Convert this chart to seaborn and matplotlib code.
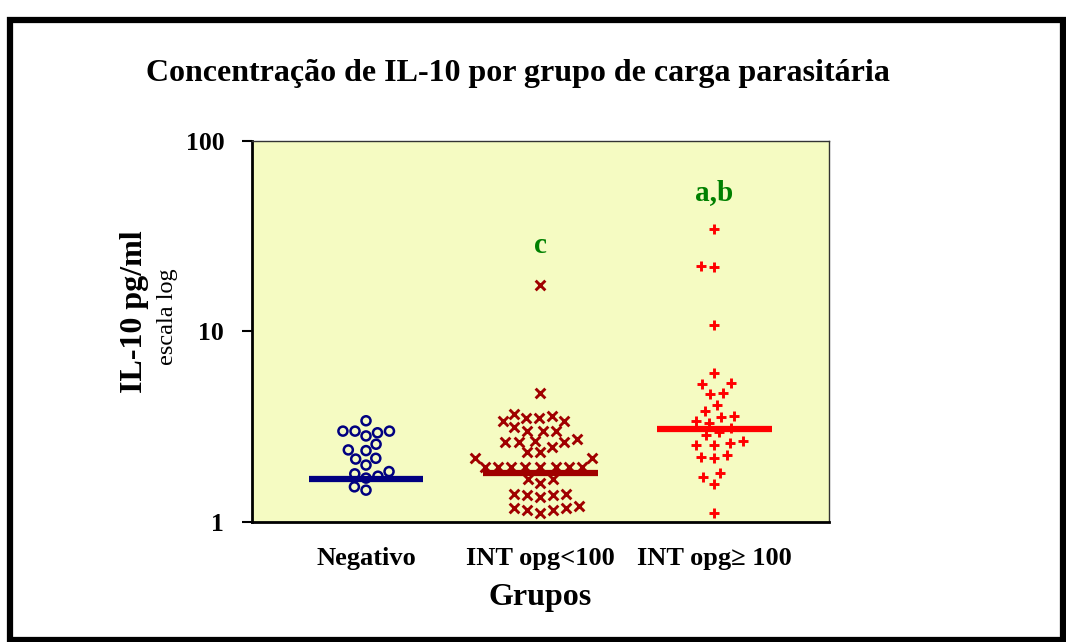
import numpy as np
import pandas as pd
import seaborn as sns
import matplotlib.pyplot as plt
from matplotlib.patches import Rectangle
from matplotlib.ticker import NullLocator

# IL-10 (pg/ml), por grupo
grupos = ['Negativo', 'INT opg<100', 'INT opg\u2265 100']
negativo = [3.40, 3.00, 3.00, 2.83, 2.94, 3.00, 2.56, 2.39, 2.37, 2.16, 2.14,
            1.99, 1.84, 1.74, 1.70, 1.79, 1.47, 1.53]
int_menor100 = [17.5, 4.77, 3.60, 3.50, 3.40, 3.40, 3.53, 3.69, 3.02, 3.02,
                3.02, 3.16, 2.67, 2.64, 2.73, 2.64, 2.64, 2.48, 2.32, 2.34,
                2.16, 2.16, 1.95, 1.95, 1.95, 1.95, 1.95, 1.95, 1.95, 1.95,
                1.68, 1.60, 1.68, 1.41, 1.39, 1.36, 1.39, 1.41,
                1.19, 1.16, 1.12, 1.15, 1.19, 1.21]
int_maior100 = [34.4, 22.1, 21.8, 10.8, 6.08, 5.28, 5.37, 4.77, 4.67, 4.11,
                3.84, 3.60, 3.54, 3.32, 3.40, 2.98, 3.10, 2.86, 2.67, 2.54,
                2.54, 2.61, 2.25, 2.16, 2.20, 1.73, 1.81, 1.58, 1.12]
medianas = [1.69, 1.81, 3.08]
letras = ['', 'c', 'a,b']
letras_y = [None, 28.4, 53.3]

cores = ['#000080', '#A00000', '#FF0000']
marcadores = ['o', 'x', '+']

df = pd.DataFrame({
    'grupo': [grupos[0]] * len(negativo) + [grupos[1]] * len(int_menor100)
             + [grupos[2]] * len(int_maior100),
    'il10': negativo + int_menor100 + int_maior100,
})

sns.set_theme(style='ticks')
plt.rcParams['font.family'] = ['Liberation Serif', 'DejaVu Serif']
plt.rcParams['font.weight'] = 'bold'
for k in ['text.color', 'axes.labelcolor', 'xtick.color', 'ytick.color']:
    plt.rcParams[k] = 'black'

fig = plt.figure(figsize=(10.66, 6.42), dpi=100)
ax = fig.add_axes([0.2364, 0.1869, 0.5413, 0.5935])
ax.set_facecolor('#F5FBC2')
ax.set_yscale('log')
ax.set_ylim(1, 100)
ax.set_xlim(-0.655, 2.66)

for g, cor, m in zip(grupos, cores, marcadores):
    sub = df[df['grupo'] == g]
    if m == 'o':
        sns.swarmplot(data=sub, x='grupo', y='il10', order=grupos, ax=ax,
                      marker=m, size=6.5, color=cor, facecolor='none',
                      edgecolor=cor, linewidth=1.8)
    else:
        sns.swarmplot(data=sub, x='grupo', y='il10', order=grupos, ax=ax,
                      marker=m, size=7, color=cor, edgecolor=cor,
                      linewidth=2.1)

pos = np.arange(len(grupos))
ax.hlines(medianas, pos - 0.33, pos + 0.33, colors=cores, linewidth=4.5,
          zorder=5)

for p, txt, yy in zip(pos, letras, letras_y):
    if txt:
        ax.text(p, yy, txt, ha='center', va='center', color='#008000',
                fontsize=21, fontweight='bold')

ax.set_xlim(-0.655, 2.66)
ax.set_yticks([1, 10, 100])
ax.set_yticklabels(['1', '10', '100'])
ax.yaxis.set_minor_locator(NullLocator())
ax.tick_params(axis='y', length=7, width=1.5, pad=13, labelsize=18.5)
ax.tick_params(axis='x', length=0, pad=18, labelsize=19)
for lab in ax.get_xticklabels() + ax.get_yticklabels():
    lab.set_fontweight('bold')

for s in ['left', 'bottom']:
    ax.spines[s].set_linewidth(2)
    ax.spines[s].set_color('black')
for s in ['top', 'right']:
    ax.spines[s].set_linewidth(1)
    ax.spines[s].set_color('#333333')

ax.set_xlabel('Grupos', fontsize=23, fontweight='bold', labelpad=9)
ax.set_ylabel('IL-10 pg/ml', fontsize=23, fontweight='bold', va='center')
ax.yaxis.set_label_coords(-0.203, 0.551)
ax.text(-0.146, 0.538, 'escala log', transform=ax.transAxes, rotation=90,
        ha='center', va='center', fontsize=17.5, fontweight='normal')

fig.text(0.486, 0.886, 'Concentração de IL-10 por grupo de carga parasitária',
         ha='center', va='center', fontsize=23, fontweight='bold')

fig.patches.append(Rectangle((0.0095, 0.003), 0.988, 0.966,
                             transform=fig.transFigure, fill=False,
                             edgecolor='black', linewidth=4.5))

fig.savefig('out.png', dpi=100)
